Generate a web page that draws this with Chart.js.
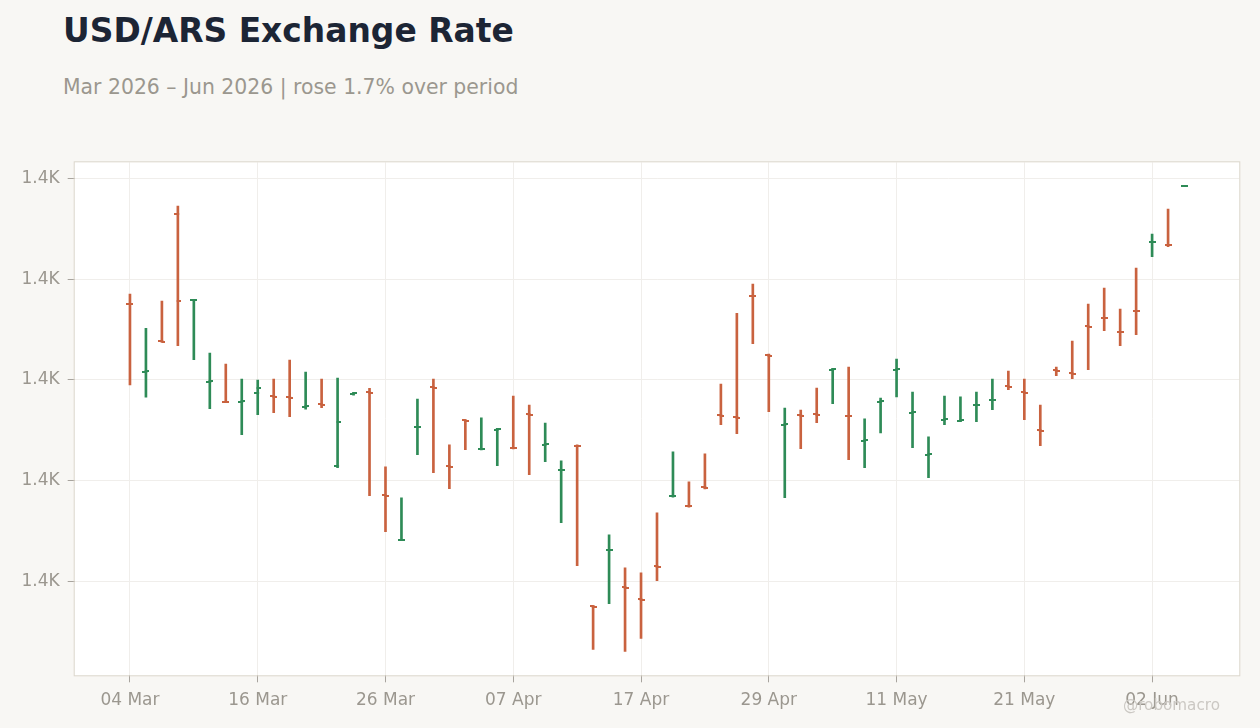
<!DOCTYPE html>
<html>
<head>
<meta charset="utf-8">
<script src="https://cdn.jsdelivr.net/npm/chart.js@4.4.1/dist/chart.umd.min.js"></script>
<style>
  html, body { margin:0; padding:0; background:#f8f7f4; }
  body { width:1260px; height:728px; position:relative; overflow:hidden; font-family:"DejaVu Sans", sans-serif; }
  #title { position:absolute; left:63px; top:14.5px; font-size:32.9px; line-height:1; font-weight:bold; color:#1c2535; white-space:nowrap; }
  #subtitle { position:absolute; left:63px; top:77px; font-size:20.4px; line-height:1; color:#9b978f; white-space:nowrap; }
  #mark { position:absolute; left:1123px; top:698px; font-size:15.2px; line-height:1; color:#cbc8c3; white-space:nowrap; }
  canvas { position:absolute; left:0; top:0; }
</style>
</head>
<body>
<div id="title">USD/ARS Exchange Rate</div>
<div id="subtitle">Mar 2026 – Jun 2026 | rose 1.7% over period</div>
<canvas id="c" width="1260" height="728"></canvas>
<div id="mark">@robomacro</div>
<script>
// ---- data ----
const dates = [
  "04 Mar","05 Mar","06 Mar","09 Mar","10 Mar","11 Mar","12 Mar","13 Mar","16 Mar","17 Mar",
  "18 Mar","19 Mar","20 Mar","23 Mar","24 Mar","25 Mar","26 Mar","27 Mar","30 Mar","31 Mar",
  "01 Apr","02 Apr","03 Apr","06 Apr","07 Apr","08 Apr","09 Apr","10 Apr","13 Apr","14 Apr",
  "15 Apr","16 Apr","17 Apr","20 Apr","21 Apr","22 Apr","23 Apr","24 Apr","27 Apr","28 Apr",
  "29 Apr","30 Apr","01 May","04 May","05 May","06 May","07 May","08 May","11 May","12 May",
  "13 May","14 May","15 May","18 May","19 May","20 May","21 May","22 May","25 May","26 May",
  "27 May","28 May","29 May","01 Jun","02 Jun","03 Jun","04 Jun"
];
const openVals = [
  1415.15,1401.55,1407.64,1432.91,1415.84,1399.56,1395.65,1395.59,1397.44,1396.68,
  1396.49,1394.60,1395.10,1382.89,1397.18,1397.58,1377.03,1368.14,1390.57,1398.47,
  1382.79,1391.92,1386.17,1390.03,1386.50,1393.11,1387.06,1382.04,1386.92,1355.04,
  1366.11,1358.77,1356.39,1362.94,1376.83,1374.99,1378.62,1392.91,1392.62,1416.73,
  1404.96,1391.03,1392.91,1393.15,1402.01,1392.85,1387.85,1395.59,1401.95,1393.41,
  1385.07,1392.02,1391.82,1394.90,1395.95,1398.67,1397.52,1389.94,1401.85,1401.25,
  1410.68,1412.37,1409.59,1413.76,1427.30,1426.86,1438.40
];
const highVals = [
  1417.03,1410.22,1415.64,1434.50,1415.98,1405.32,1403.14,1400.16,1399.96,1400.16,
  1403.93,1401.55,1400.16,1400.36,1397.52,1398.31,1382.69,1376.54,1396.19,1400.16,
  1387.06,1392.02,1392.42,1390.37,1396.78,1395.00,1391.42,1383.88,1387.06,1355.16,
  1369.19,1362.64,1361.65,1373.56,1385.67,1379.71,1385.27,1399.17,1413.20,1419.02,
  1405.12,1394.40,1394.00,1398.37,1402.28,1402.54,1392.22,1396.39,1404.13,1397.58,
  1388.65,1396.78,1396.59,1397.58,1400.16,1401.75,1400.16,1395.00,1402.54,1407.70,
  1415.05,1418.22,1414.05,1422.19,1428.94,1433.91,1438.50
];
const lowVals = [
  1398.97,1396.53,1407.56,1406.77,1403.99,1394.26,1395.59,1389.10,1393.07,1393.47,
  1392.68,1394.14,1394.46,1382.55,1396.92,1376.99,1369.85,1368.14,1385.13,1381.56,
  1378.38,1386.12,1386.07,1382.95,1386.26,1381.16,1383.74,1371.63,1363.10,1346.42,
  1355.55,1346.03,1348.61,1360.12,1376.68,1374.69,1378.32,1391.09,1389.30,1407.17,
  1393.67,1376.60,1386.32,1391.48,1395.26,1384.14,1382.55,1389.44,1396.59,1386.52,
  1380.57,1391.09,1391.68,1391.68,1394.06,1398.03,1392.08,1386.92,1400.81,1400.22,
  1402.01,1409.75,1406.77,1408.95,1424.44,1426.42,1438.40
];
const closeVals = [
  1415.05,1401.65,1407.56,1415.64,1415.94,1399.66,1395.59,1395.69,1398.43,1396.59,
  1396.39,1394.70,1395.00,1391.68,1397.28,1397.38,1376.93,1368.20,1390.67,1398.37,
  1382.69,1391.82,1386.27,1390.13,1386.40,1393.01,1387.16,1382.14,1386.76,1354.94,
  1366.21,1358.67,1356.29,1362.84,1376.93,1374.89,1378.52,1392.81,1392.48,1416.63,
  1404.82,1391.13,1392.81,1393.05,1402.11,1392.75,1387.95,1395.69,1402.20,1393.51,
  1385.17,1392.12,1391.92,1395.00,1396.05,1398.57,1397.32,1389.84,1401.75,1401.15,
  1410.54,1412.27,1409.49,1413.66,1427.40,1426.76,1438.50
];
const yTickVals = [1360, 1380, 1400, 1420, 1440];
const xTickIdx = [0, 8, 16, 24, 32, 40, 48, 56, 64];

// ---- styles ----
const UP = '#2e8b57', DOWN = '#c9623f';
const isUp = closeVals.map((c, i) => c >= openVals[i]);
const barColors = isUp.map(u => u ? UP : DOWN);

function tickImg(color, side) {
  const cv = document.createElement('canvas');
  cv.width = 7; cv.height = 2;
  const g = cv.getContext('2d');
  g.fillStyle = color;
  if (side === 'left') g.fillRect(0, 0, 4.5, 2); else g.fillRect(2.5, 0, 4.5, 2);
  return cv;
}
const imgs = {
  upL: tickImg(UP, 'left'), upR: tickImg(UP, 'right'),
  dnL: tickImg(DOWN, 'left'), dnR: tickImg(DOWN, 'right')
};

const bgPlugin = {
  id: 'areaBg',
  beforeDraw(chart) {
    const {ctx, chartArea: a} = chart;
    ctx.save();
    ctx.fillStyle = '#ffffff';
    ctx.fillRect(a.left, a.top, a.right - a.left, a.bottom - a.top);
    ctx.restore();
  },
  afterDraw(chart) {
    const {ctx, chartArea: a} = chart;
    ctx.save();
    ctx.strokeStyle = '#dcd7ce';
    ctx.lineWidth = 1;
    ctx.strokeRect(a.left - 0.5, a.top - 0.5, a.right - a.left + 1, a.bottom - a.top + 1);
    ctx.restore();
  }
};

const font = { family: 'DejaVu Sans', size: 17 };

new Chart(document.getElementById('c'), {
  type: 'bar',
  data: {
    datasets: [
      {
        type: 'bar',
        data: dates.map((d, i) => ({ x: i, y: [lowVals[i], highVals[i]] })),
        backgroundColor: barColors,
        borderWidth: 0,
        barThickness: 2,
        order: 2
      },
      {
        type: 'line',
        showLine: false,
        data: dates.map((d, i) => ({ x: i, y: openVals[i] })),
        pointStyle: ctx => isUp[ctx.dataIndex] ? imgs.upL : imgs.dnL,
        pointRadius: 3,
        pointHoverRadius: 3,
        order: 1
      },
      {
        type: 'line',
        showLine: false,
        data: dates.map((d, i) => ({ x: i, y: closeVals[i] })),
        pointStyle: ctx => isUp[ctx.dataIndex] ? imgs.upR : imgs.dnR,
        pointRadius: 3,
        pointHoverRadius: 3,
        order: 1
      }
    ]
  },
  options: {
    responsive: false,
    animation: false,
    devicePixelRatio: 1,
    layout: { padding: { top: 162.3, right: 20.7, left: 0, bottom: 0 } },
    plugins: { legend: { display: false }, tooltip: { enabled: false } },
    scales: {
      x: {
        type: 'linear',
        min: -3.46,
        max: 69.46,
        offset: false,
        afterBuildTicks: s => { s.ticks = xTickIdx.map(v => ({ value: v })); },
        afterFit: s => { s.height = 52.7; },
        ticks: {
          autoSkip: false,
          maxRotation: 0,
          padding: 8,
          color: '#9b978f',
          font: font,
          callback: v => dates[v]
        },
        grid: { offset: false, color: '#f0eeeb', tickColor: '#a8a49e', tickLength: 7, lineWidth: 1 },
        border: { display: false }
      },
      y: {
        min: 1341.3,
        max: 1443.2,
        afterBuildTicks: s => { s.ticks = yTickVals.map(v => ({ value: v })); },
        afterFit: s => { s.width = 74.7; },
        ticks: {
          padding: 8,
          color: '#9b978f',
          font: font,
          callback: v => (v / 1000).toFixed(1) + 'K'
        },
        grid: { color: '#f0eeeb', tickColor: '#a8a49e', tickLength: 7, lineWidth: 1 },
        border: { display: false }
      }
    }
  },
  plugins: [bgPlugin]
});
</script>
</body>
</html>
